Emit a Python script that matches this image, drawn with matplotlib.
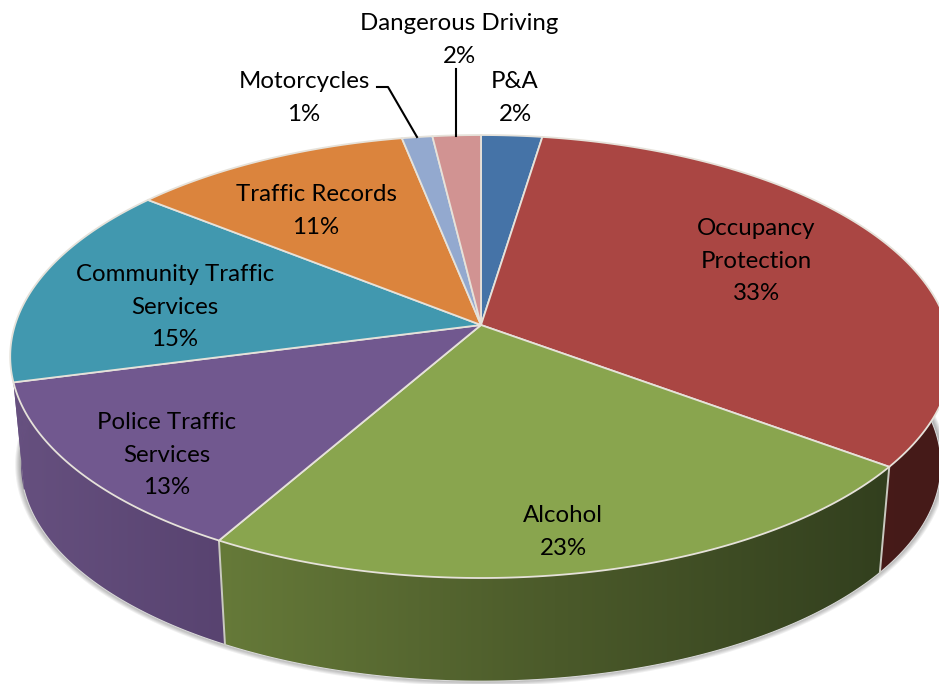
import numpy as np
import matplotlib
matplotlib.use('AGG')
import matplotlib.pyplot as plt
from matplotlib.colors import LinearSegmentedColormap
from matplotlib.patches import Polygon

categories = ['P&A', 'Occupancy\nProtection', 'Alcohol', 'Police Traffic\nServices',
              'Community Traffic\nServices', 'Traffic Records', 'Motorcycles', 'Dangerous Driving']
shares = [2.4, 32.8, 23.0, 12.7, 14.9, 11.1, 1.2, 1.9]
pct_labels = ['2%', '33%', '23%', '13%', '15%', '11%', '1%', '2%']
top_colors = ['#4573a7', '#aa4643', '#89a54e', '#71588f', '#4198af', '#db843d', '#93a9cf', '#d19392']
wall_stops = [['#2f4f74', '#2f4f74'],
              ['#4c1c1a', '#451a18'],
              ['#667a39', '#4b5a2a', '#323f1e'],
              ['#66507f', '#584370'],
              ['#66507f', '#66507f'],
              ['#995c2a', '#995c2a'],
              ['#67768f', '#67768f'],
              ['#925f5e', '#925f5e']]
front_slices = [1, 2, 3]
label_xy = [(515, 80), (756, 227), (563, 514), (167, 421), (175, 273), (316, 193), (304, 80), (459, 22)]

# perspective of the pie, in pixels
cx, cy = 481, 325
rx, ry, tilt = 466, 217, 0.1423
lower_scale, lower_cy = 0.977, 434
line_gap = 32.7


def project(theta):
    x, y = np.sin(theta), np.cos(theta)
    w = 1 + tilt * y
    return rx * x / w, ry * y / w


def top_xy(theta):
    dx, dy = project(theta)
    return np.column_stack([cx + dx, cy - dy])


def bottom_xy(theta):
    dx, dy = project(theta)
    return np.column_stack([cx + lower_scale * dx, lower_cy - lower_scale * dy])


fig = plt.figure(figsize=(9.39, 6.84), dpi=100)
ax = fig.add_axes([0, 0, 1, 1])

edges = 2 * np.pi * np.concatenate([[0], np.cumsum(shares)]) / sum(shares)
ring = np.linspace(0, 2 * np.pi, 400)

# soft shadow round the base
for grow in np.linspace(6, 1, 6):
    pts = bottom_xy(ring)
    pts[:, 0] = cx + (pts[:, 0] - cx) * (1 + grow / 470)
    pts[:, 1] = lower_cy + (pts[:, 1] - lower_cy) * (1 + grow / 250) - 1
    ax.add_patch(Polygon(pts, closed=True, fc='#000000', ec='none', alpha=0.06, zorder=1))

# side walls
for i in range(len(shares)):
    t = np.linspace(edges[i], edges[i + 1], 120)
    up = top_xy(t)
    down = bottom_xy(t)
    wall = Polygon(np.vstack([up, down[::-1]]), closed=True, fc='none', ec='none', zorder=2)
    ax.add_patch(wall)
    xs = np.concatenate([up[:, 0], down[:, 0]])
    cmap = LinearSegmentedColormap.from_list('wall', wall_stops[i])
    im = ax.imshow(np.linspace(0, 1, 256).reshape(1, -1), cmap=cmap, aspect='auto', zorder=2,
                   extent=[xs.min(), xs.max() + 1, 684, 0])
    im.set_clip_path(wall)
    if i in front_slices:
        ax.plot(down[:, 0], down[:, 1], color='#d8d8d8', lw=0.8, zorder=3)

# seams between the walls that face us
for i in front_slices[1:]:
    a = top_xy(np.array([edges[i]]))[0]
    b = bottom_xy(np.array([edges[i]]))[0]
    ax.plot([a[0], b[0]], [a[1], b[1]], color='#c9c9c0', lw=1.4, zorder=3)

ax.set_xlim(0, 939)
ax.set_ylim(684, 0)
ax.axis('off')

# top face
for i in range(len(shares)):
    t = np.linspace(edges[i], edges[i + 1], 120)
    pts = np.vstack([[cx, cy], top_xy(t)])
    ax.add_patch(Polygon(pts, closed=True, fc=top_colors[i], ec='#e6e2da', lw=1.3,
                         joinstyle='round', zorder=4))

# leader lines
ax.plot([377, 388, 417], [87, 87, 137], color='black', lw=1.5, zorder=5)
ax.plot([456, 456], [69, 136], color='black', lw=1.5, zorder=5)

for name, pct, (lx, ly) in zip(categories, pct_labels, label_xy):
    for n, line in enumerate(name.split('\n') + [pct]):
        ax.text(lx, ly + 1.5 + n * line_gap, line, ha='center', va='center', color='black',
                fontsize=17.3, family='Lato', zorder=6)

fig.savefig('out.png', dpi=100)
